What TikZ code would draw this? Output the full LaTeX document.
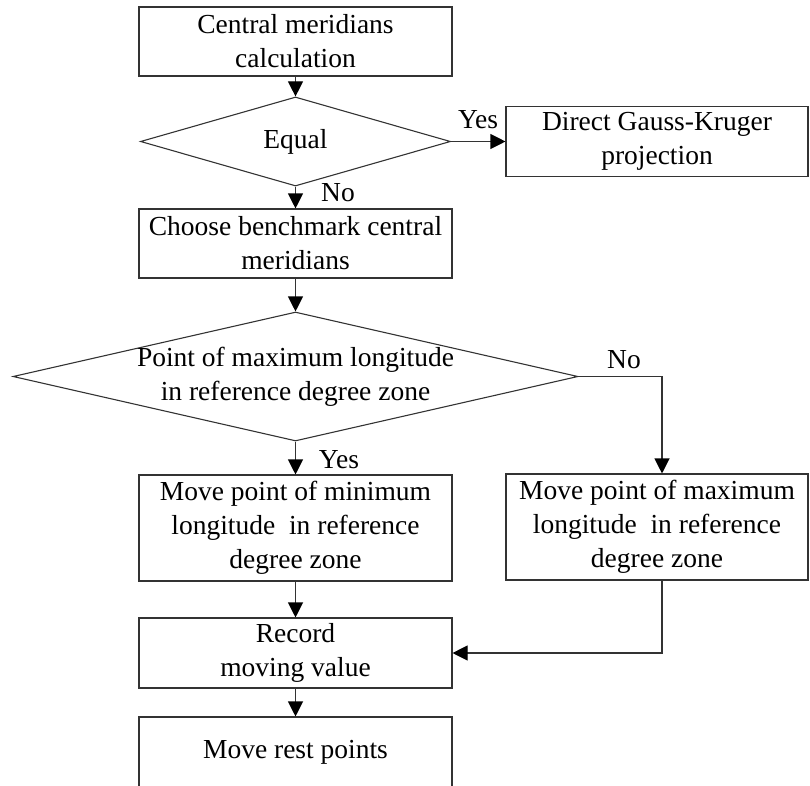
\documentclass[tikz,border=0pt]{standalone}
\usepackage{fontspec}
\setmainfont{Liberation Serif}
\usetikzlibrary{shapes.geometric,arrows.meta}
\begin{document}
\begin{tikzpicture}[x=1pt,y=-1pt,
  box/.style={draw=black!80, line width=1.1pt, rectangle, inner sep=0pt, align=center, font=\fontsize{27.5}{34}\selectfont},
  dia/.style={draw=black!80, line width=1.1pt, diamond, inner sep=0pt, font=\fontsize{27.5}{34}\selectfont},
  txt/.style={inner sep=0pt, align=center, font=\fontsize{27.5}{34}\selectfont},
  arr/.style={draw=black!80, line width=1.1pt, -{Triangle[length=15pt,width=15pt,fill=black,color=black]}},
  ln/.style={draw=black!80, line width=1.1pt}]
\useasboundingbox (0,0) rectangle (810,785);
% nodes
\node[box, minimum width=313pt, minimum height=69pt] (b1) at (295.5,41.5) {Central meridians\\calculation};
\node[dia, minimum width=310pt, minimum height=75pt] (d1) at (295.5,141.5) {Equal};
\node[box, minimum width=302pt, minimum height=70pt] (dg) at (657,141.5) {Direct Gauss-Kruger\\projection};
\node[box, minimum width=313pt, minimum height=69pt] (b2) at (295.5,243.5) {Choose benchmark central\\meridians};
\node[dia, minimum width=565pt, minimum height=129pt] (d2) at (295.5,376.5) {};
\node[txt] (d2t) at (d2.center) {Point of maximum longitude\\in reference degree zone};
\node[box, minimum width=313pt, minimum height=106pt] (b3) at (295.5,528) {Move point of minimum\\longitude~ in reference\\degree zone};
\node[box, minimum width=302pt, minimum height=106pt] (b4) at (657,527) {Move point of maximum\\longitude~ in reference\\degree zone};
\node[box, minimum width=313pt, minimum height=70pt] (rec) at (295.5,653) {Record\\moving value};
\node[box, minimum width=313pt, minimum height=70pt] (rest) at (295.5,752) {Move rest points};
% labels
\node[txt] (yes1) at (478,120) {Yes};
\node[txt] (no1) at (338,193) {No};
\node[txt] (no2) at (624,360) {No};
\node[txt] (yes2) at (339,460) {Yes};
% connectors
\coordinate (c1) at (662,376.5);
\coordinate (c2) at (662,653);
\draw[arr] (b1.south) -- (d1.north);
\draw[arr] (d1.east) -- (dg.west);
\draw[arr] (d1.south) -- (b2.north);
\draw[arr] (b2.south) -- (d2.north);
\draw[arr] (d2.south) -- (b3.north);
\draw[arr] (d2.east) -- (c1) -- (c1 |- b4.north);
\draw[arr] (b3.south) -- (rec.north);
\draw[arr] (c1 |- b4.south) -- (c2) -- (rec.east);
\draw[arr] (rec.south) -- (rest.north);
\end{tikzpicture}
\end{document}
